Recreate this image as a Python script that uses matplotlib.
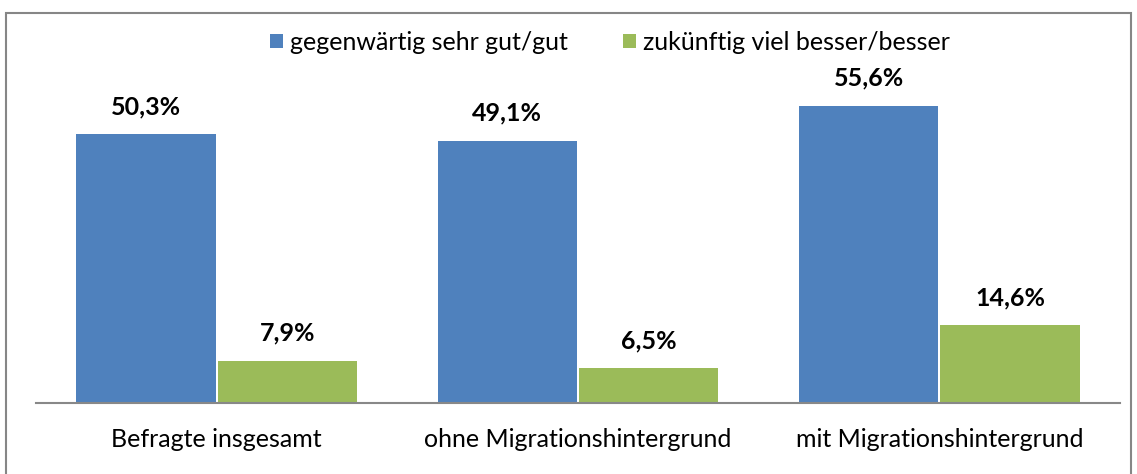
import numpy as np
import matplotlib.pyplot as plt
from matplotlib.patches import Rectangle

categories = ["Befragte insgesamt", "ohne Migrationshintergrund", "mit Migrationshintergrund"]
gegenwaertig = [50.3, 49.1, 55.6]
zukuenftig = [7.9, 6.5, 14.6]
series_names = ["gegenwärtig sehr gut/gut", "zukünftig viel besser/besser"]

blue = "#4F81BD"
green = "#9BBB59"

plt.rcParams['font.family'] = ['Lato', 'DejaVu Sans']

W, H = 1137, 474
fig = plt.figure(figsize=(W / 100, H / 100), dpi=100)

# outer chart border (bottom edge cut off in the original)
fig.patches.append(Rectangle((6 / W, -0.05), (1131 - 6) / W, (H - 13) / H + 0.05,
                             transform=fig.transFigure, fill=False,
                             edgecolor="#868686", linewidth=1.5))

ax = fig.add_axes([36 / W, 71 / H, (1120 - 36) / W, 320.6 / H])
x = np.arange(len(categories))
w = 0.385
b1 = ax.bar(x - w / 2 - 0.003, gegenwaertig, w, color=blue, label=series_names[0])
b2 = ax.bar(x + w / 2 + 0.003, zukuenftig, w, color=green, label=series_names[1])

for bars, vals in [(b1, gegenwaertig), (b2, zukuenftig)]:
    for r, v in zip(bars, vals):
        ax.text(r.get_x() + r.get_width() / 2, v + 3.0, f"{v:.1f}%".replace(".", ","),
                ha="center", va="bottom", fontsize=18, fontweight="bold")

ax.set_xlim(-0.5, 2.5)
ax.set_ylim(0, 60)
ax.set_yticks([])
ax.set_xticks(x)
ax.set_xticklabels(categories, fontsize=18)
ax.tick_params(axis="x", length=0, pad=18)
for s in ["top", "right", "left"]:
    ax.spines[s].set_visible(False)
ax.spines["bottom"].set_color("#888888")
ax.spines["bottom"].set_linewidth(1.5)

fig.legend(handles=[b1, b2], loc="center", bbox_to_anchor=(610 / W, 1 - 42 / H),
           ncol=2, frameon=False, fontsize=18, handlelength=0.5, handleheight=0.5,
           handletextpad=0.3, columnspacing=2.2, borderaxespad=0)

fig.savefig("out.png", dpi=100)
